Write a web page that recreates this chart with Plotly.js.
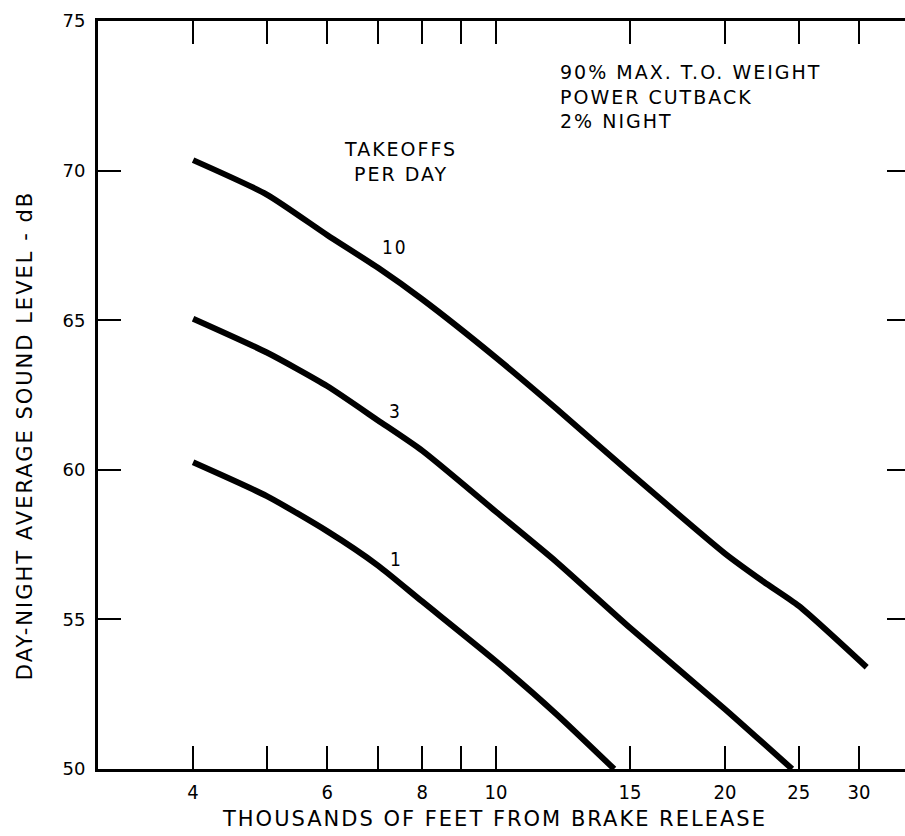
<!DOCTYPE html>
<html>
<head>
<meta charset="utf-8">
<script src="https://cdn.plot.ly/plotly-3.0.1.min.js"></script>
<style>
  html, body { margin: 0; padding: 0; overflow: hidden; background: #fff; }
  #chart { width: 915px; height: 836px; }
  .annotation-text { letter-spacing: 2px; }
</style>
</head>
<body>
<div id="chart"></div>
<script>
// Thousands of feet from brake release vs Day-Night average sound level (dB)
const x10 = [4.0, 5.0, 6.0, 7.0, 8.0, 10.0, 12.0, 15.0, 20.0, 22.5, 25.0, 30.7];
const y10 = [70.35, 69.2, 67.85, 66.75, 65.7, 63.75, 62.05, 59.9, 57.2, 56.25, 55.45, 53.4];

const x3 = [4.0, 5.0, 6.0, 7.0, 8.0, 10.0, 12.0, 15.0, 20.0, 24.5];
const y3 = [65.05, 63.92, 62.8, 61.65, 60.64, 58.6, 56.93, 54.72, 52.0, 50.0];

const x1 = [4.0, 5.0, 6.0, 7.0, 8.0, 10.0, 12.0, 14.3];
const y1 = [60.25, 59.12, 57.95, 56.8, 55.6, 53.6, 51.84, 50.0];

const xTickVals = [4, 5, 6, 7, 8, 9, 10, 15, 20, 25, 30];
const xTickText = ['4', '', '6', '', '8', '', '10', '15', '20', '25', '30'];
const yTickVals = [50, 55, 60, 65, 70, 75];
const yTickText = ['50', '55', '60', '65', '70', '75'];

const curveLabels = ['10', '3', '1'];
const curveLabelX = [7.36, 7.38, 7.40];
const curveLabelY = [67.43, 61.98, 57.02];

const noteLines = ['90% MAX. T.O. WEIGHT', 'POWER CUTBACK', '2% NIGHT'];
const keyLines = ['TAKEOFFS', 'PER DAY'];
const xTitle = 'THOUSANDS OF FEET FROM BRAKE RELEASE';
const yTitle = 'DAY-NIGHT AVERAGE SOUND LEVEL - dB';

const lineStyle = { color: '#000', width: 6, shape: 'spline', smoothing: 0.6 };
const traces = [
  { x: x10, y: y10, name: '10', mode: 'lines', line: lineStyle, hoverinfo: 'skip' },
  { x: x3, y: y3, name: '3', mode: 'lines', line: lineStyle, hoverinfo: 'skip' },
  { x: x1, y: y1, name: '1', mode: 'lines', line: lineStyle, hoverinfo: 'skip' }
];

const fontMain = 'DejaVu Sans, sans-serif';
const annotations = [];
for (let i = 0; i < curveLabels.length; i++) {
  annotations.push({
    text: curveLabels[i], x: Math.log10(curveLabelX[i]), y: curveLabelY[i],
    xref: 'x', yref: 'y', showarrow: false,
    font: { family: 'DejaVu Sans Condensed, sans-serif', size: 19, color: '#000' }
  });
}
annotations.push({
  text: noteLines.join('<br>'), xref: 'paper', yref: 'paper',
  x: 0.5665, y: 0.899, xanchor: 'left', yanchor: 'middle', align: 'left', showarrow: false,
  font: { family: fontMain, size: 19, color: '#000' }
});
annotations.push({
  text: keyLines.join('<br>'), xref: 'paper', yref: 'paper',
  x: 0.373, y: 0.8115, xanchor: 'center', yanchor: 'middle', align: 'center', showarrow: false,
  font: { family: fontMain, size: 19, color: '#000' }
});
annotations.push({
  text: xTitle, xref: 'paper', yref: 'paper',
  x: 0.4877, y: -0.0665, xanchor: 'center', yanchor: 'middle', showarrow: false,
  font: { family: fontMain, size: 21, color: '#000' }
});
annotations.push({
  text: yTitle, xref: 'paper', yref: 'paper', textangle: -90,
  x: -0.0899, y: 0.445, xanchor: 'center', yanchor: 'middle', showarrow: false,
  font: { family: fontMain, size: 21, color: '#000' }
});

const layout = {
  width: 915, height: 836,
  margin: { l: 98, r: 5, t: 21, b: 67 },
  paper_bgcolor: '#fff', plot_bgcolor: '#fff',
  showlegend: false,
  xaxis: {
    type: 'log', range: [Math.log10(3), Math.log10(35)],
    tickvals: xTickVals, ticktext: xTickText,
    ticks: 'inside', ticklen: 23, tickwidth: 2, tickcolor: '#000',
    showline: true, linewidth: 3, linecolor: '#000', mirror: 'ticks',
    showgrid: false, zeroline: false, ticklabelstandoff: 3,
    tickfont: { family: 'DejaVu Sans Condensed, sans-serif', size: 20, color: '#000' }
  },
  yaxis: {
    range: [50, 75],
    tickvals: yTickVals, ticktext: yTickText,
    ticks: 'inside', ticklen: 23, tickwidth: 2, tickcolor: '#000',
    showline: true, linewidth: 3, linecolor: '#000', mirror: 'ticks',
    showgrid: false, zeroline: false, ticklabelstandoff: 6,
    tickfont: { family: fontMain, size: 18, color: '#000' }
  },
  annotations: annotations
};

Plotly.newPlot('chart', traces, layout, { staticPlot: true, displayModeBar: false });
</script>
</body>
</html>
